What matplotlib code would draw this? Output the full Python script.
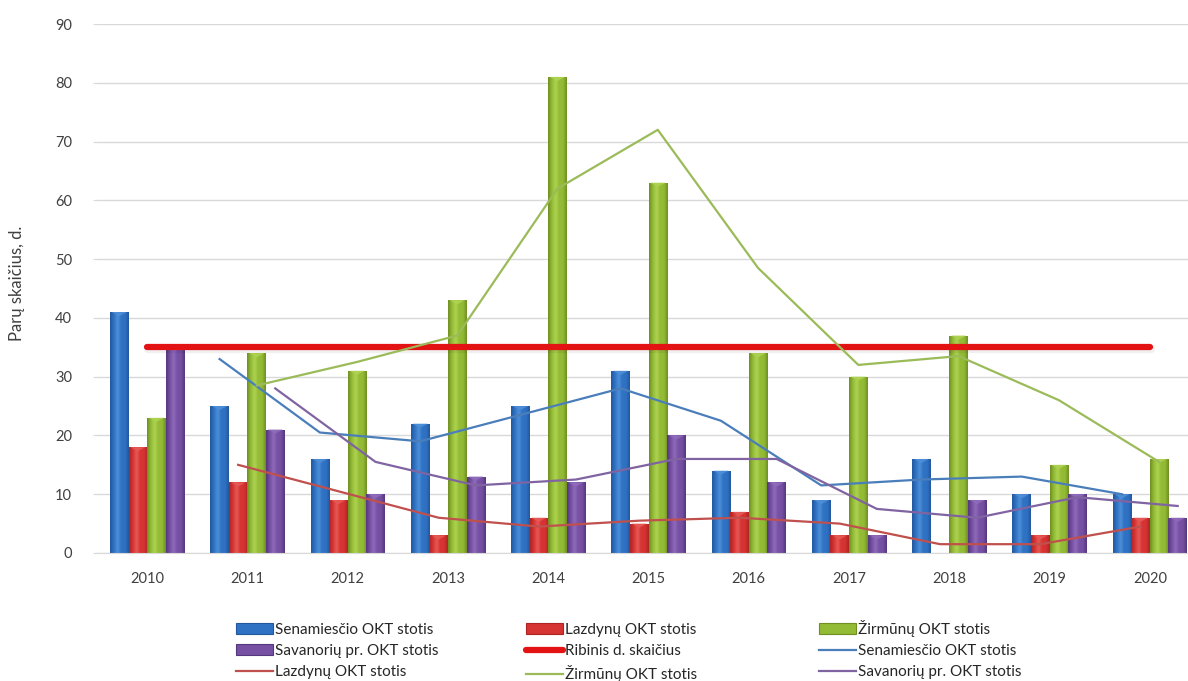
import matplotlib

matplotlib.use("Agg")
import matplotlib.pyplot as plt
import numpy as np
from matplotlib.colors import LinearSegmentedColormap
from matplotlib.lines import Line2D
from matplotlib.patches import Patch, Polygon

plt.rcParams["font.family"] = ["Lato", "DejaVu Sans"]

years = ["2010", "2011", "2012", "2013", "2014", "2015",
         "2016", "2017", "2018", "2019", "2020"]

senamiescio = [41, 25, 16, 22, 25, 31, 14, 9, 16, 10, 10]
lazdynu = [18, 12, 9, 3, 6, 5, 7, 3, 0, 3, 6]
zirmunu = [23, 34, 31, 43, 81, 63, 34, 30, 37, 15, 16]
savanoriu = [35, 21, 10, 13, 12, 20, 12, 3, 9, 10, 6]
ribinis = [35] * 11

# moving-average trend lines, 2011..2020
senamiescio_trend = [33, 20.5, 19, 23.5, 28, 22.5, 11.5, 12.5, 13, 10]
lazdynu_trend = [15, 10.5, 6, 4.5, 5.5, 6, 5, 1.5, 1.5, 4.5]
zirmunu_trend = [28.5, 32.5, 37, 62, 72, 48.5, 32, 33.5, 26, 15.5]
savanoriu_trend = [28, 15.5, 11.5, 12.5, 16, 16, 7.5, 6, 9.5, 8]

labels = ["Senamiesčio OKT stotis", "Lazdynų OKT stotis",
          "Žirmūnų OKT stotis", "Savanorių pr. OKT stotis"]

# (dark edge, base, highlight) per bar series
bar_colors = [("#22579c", "#2f72c4", "#4f8fd8"),
              ("#ad2424", "#d63333", "#e65a55"),
              ("#6f8f22", "#93bb35", "#aed352"),
              ("#55377d", "#7650a3", "#8f6bbb")]
trend_colors = ["#4a7ebb", "#c0504d", "#9bbb59", "#8064a2"]
ribinis_color = "#e31313"

fig = plt.figure(figsize=(11.88, 6.81), dpi=100)
ax = fig.add_axes([97 / 1188, 1 - 553 / 681, 1103 / 1188, 529 / 681])

x = np.arange(len(years))
width = 0.185
offsets = [-1.5 * width, -0.5 * width, 0.5 * width, 1.5 * width]
series = [senamiescio, lazdynu, zirmunu, savanoriu]
trends = [senamiescio_trend, lazdynu_trend, zirmunu_trend, savanoriu_trend]

grad = np.linspace(0, 1, 64).reshape(1, -1)
for values, off, (dark, base, light) in zip(series, offsets, bar_colors):
    cmap = LinearSegmentedColormap.from_list(
        "bevel", [dark, base, light, base, base, dark], N=128)
    bars = ax.bar(x + off, values, width, color=base, linewidth=0, zorder=2)
    for rect in bars:
        bx, bw, bh = rect.get_x(), rect.get_width(), rect.get_height()
        if bh <= 0:
            continue
        im = ax.imshow(grad, extent=[bx, bx + bw, 0, bh], aspect="auto",
                       cmap=cmap, zorder=2.1, interpolation="bicubic")
        im.set_clip_path(rect)
        depth = min(0.7, bh)
        ax.add_patch(Polygon([(bx + 0.1 * bw, bh), (bx + 0.9 * bw, bh),
                              (bx + 0.5 * bw, bh - depth)],
                             closed=True, facecolor=light, edgecolor="none",
                             alpha=0.9, zorder=2.2))

# red threshold line with a soft shadow
ax.plot(x, ribinis, color="#000000", alpha=0.06, linewidth=6,
        solid_capstyle="round", zorder=3.9,
        transform=ax.transData + matplotlib.transforms.ScaledTranslation(
            1 / 100, -2 / 100, fig.dpi_scale_trans))
ax.plot(x, ribinis, color=ribinis_color, linewidth=4.5,
        solid_capstyle="round", zorder=4)

for trend, off, color in zip(trends, offsets, trend_colors):
    ax.plot(x[1:] + off, trend, color=color, linewidth=1.6, zorder=5)

ax.set_xlim(-0.5, len(years) - 0.5)
ax.set_ylim(0, 90)
ax.set_yticks(range(0, 91, 10))
ax.set_xticks(x)
ax.set_xticklabels(years)
ax.grid(axis="y", color="#d9d9d9", linewidth=1.0, zorder=0)
ax.set_axisbelow(True)
for side in ("top", "right", "left"):
    ax.spines[side].set_visible(False)
ax.spines["bottom"].set_color("#d9d9d9")
ax.tick_params(axis="y", length=3, color="#d9d9d9", pad=15,
               labelsize=10.5, labelcolor="#404040")
ax.tick_params(axis="x", length=0, pad=14, labelsize=10.5, labelcolor="#404040")
ax.set_ylabel("Parų skaičius, d.", fontsize=12, color="#404040")
ax.yaxis.set_label_coords(-72 / 1103, 0.51)

bar_handles = [Patch(facecolor=c[1], edgecolor=c[0], linewidth=0.8)
               for c in bar_colors]
trend_handles = [Line2D([], [], color=c, linewidth=1.6) for c in trend_colors]
rib_handle = Line2D([], [], color=ribinis_color, linewidth=4.5,
                    solid_capstyle="round")

columns = [
    ([bar_handles[0], bar_handles[3], trend_handles[1]],
     [labels[0], labels[3], labels[1]], 237, 617),
    ([bar_handles[1], rib_handle, trend_handles[2]],
     [labels[1], "Ribinis d. skaičius", labels[2]], 527, 617),
    ([bar_handles[2], trend_handles[0], trend_handles[3]],
     [labels[2], labels[0], labels[3]], 820, 614),
]
for handles, texts, left, top in columns:
    fig.legend(handles, texts, loc="upper left",
               bbox_to_anchor=(left / 1188 - 0.006, 1 - top / 681),
               frameon=False, fontsize=11, handlelength=2.4,
               handletextpad=0.15, labelspacing=0.45, borderaxespad=0,
               labelcolor="#262626")

fig.savefig("out.png", dpi=100)
